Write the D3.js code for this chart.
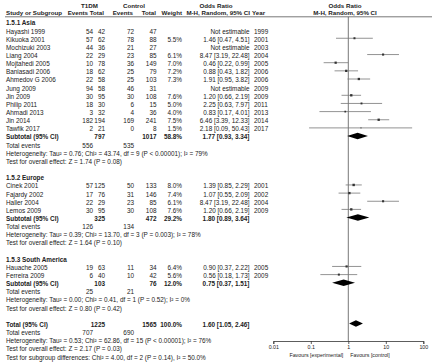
<!DOCTYPE html>
<html>
<head>
<meta charset="utf-8">
<script src="https://cdn.jsdelivr.net/npm/d3@7"></script>
<style>
  body { margin: 0; background: #fff; }
  svg text { font-family: "Liberation Sans", Arial, sans-serif; fill: #222; }
</style>
</head>
<body>
<svg id="chart" width="432" height="362"></svg>
<script>
// study rows: name, T1DM events, T1DM total, control events, control total, weight, OR, lo, hi, year
const asia = [
  ["Hayashi 1999", 54, 42, 72, 47, null, null, null, null, 1999],
  ["Kikuoka 2001", 57, 62, 78, 88, 5.5, 1.46, 0.47, 4.51, 2001],
  ["Mochizuki 2003", 44, 36, 21, 27, null, null, null, null, 2003],
  ["Liang 2004", 22, 29, 23, 85, 6.1, 8.47, 3.19, 22.48, 2004],
  ["Mojtahedi 2005", 10, 78, 36, 149, 7.0, 0.46, 0.22, 0.99, 2005],
  ["Baniasadi 2006", 18, 62, 25, 79, 7.2, 0.88, 0.43, 1.82, 2006],
  ["Ahmedov G 2006", 22, 58, 25, 103, 7.3, 1.91, 0.95, 3.82, 2006],
  ["Jung 2009", 94, 58, 46, 31, null, null, null, null, 2009],
  ["Jin 2009", 30, 95, 30, 108, 7.6, 1.20, 0.66, 2.19, 2009],
  ["Philip 2011", 18, 30, 6, 15, 5.0, 2.25, 0.63, 7.97, 2011],
  ["Ahmadi 2013", 3, 32, 4, 36, 4.0, 0.83, 0.17, 4.01, 2013],
  ["Jin 2014", 182, 194, 169, 241, 7.5, 6.46, 3.39, 12.33, 2014],
  ["Tawfik 2017", 2, 21, 0, 8, 1.5, 2.18, 0.09, 50.43, 2017]
];
const europe = [
  ["Cinek 2001", 57, 125, 50, 133, 8.0, 1.39, 0.85, 2.29, 2001],
  ["Fajardy 2002", 17, 76, 31, 146, 7.4, 1.07, 0.55, 2.09, 2002],
  ["Haller 2004", 22, 29, 23, 85, 6.1, 8.47, 3.19, 22.48, 2004],
  ["Lemos 2009", 30, 95, 30, 108, 7.6, 1.20, 0.66, 2.19, 2009]
];
const southAmerica = [
  ["Hauache 2005", 19, 63, 11, 34, 6.4, 0.90, 0.37, 2.22, 2005],
  ["Ferreira 2009", 6, 40, 10, 42, 5.6, 0.56, 0.18, 1.73, 2009]
];
// subgroup: total1, total2, weight, OR, lo, hi, events1, events2
const subgroupNames = ["1.5.1 Asia", "1.5.2 Europe", "1.5.3 South America"];
const subtotals = [
  [797, 1017, 58.8, 1.77, 0.93, 3.34, 556, 535],
  [325, 472, 29.2, 1.80, 0.89, 3.64, 126, 134],
  [103, 76, 12.0, 0.75, 0.37, 1.51, 25, 21]
];
const heterogeneity = [
  "Heterogeneity: Tau² = 0.76; Chi² = 43.74, df = 9 (P < 0.00001); I² = 79%",
  "Heterogeneity: Tau² = 0.39; Chi² = 13.70, df = 3 (P = 0.003); I² = 78%",
  "Heterogeneity: Tau² = 0.00; Chi² = 0.41, df = 1 (P = 0.52); I² = 0%"
];
const overallEffect = [
  "Test for overall effect: Z = 1.74 (P = 0.08)",
  "Test for overall effect: Z = 1.64 (P = 0.10)",
  "Test for overall effect: Z = 0.80 (P = 0.42)"
];
const total = [1225, 1565, 100.0, 1.60, 1.05, 2.46, 707, 690];
const totalTexts = [
  "Heterogeneity: Tau² = 0.53; Chi² = 62.86, df = 15 (P < 0.00001); I² = 76%",
  "Test for overall effect: Z = 2.17 (P = 0.03)",
  "Test for subgroup differences: Chi² = 4.00, df = 2 (P = 0.14), I² = 50.0%"
];
const axisTicks = [0.01, 0.1, 1, 10, 100];
const tickLabels = ["0.01", "0.1", "1", "10", "100"];

const svg = d3.select("#chart");
const fs = 6.4;
const col = { name: 6, e1: 93, n1: 105, e2: 134, n2: 156.5, w: 182, ci: 249.5, yr: 254 };
const rowH = 8.15, row0 = 33.5, markOff = 3.4;
const x = d3.scaleLog().domain([0.01, 100]).range([273.3, 423.3]);
const axisY = 341;

const fmt2 = d3.format(".2f");
const ciText = (or, lo, hi) => `${fmt2(or)} [${fmt2(lo)}, ${fmt2(hi)}]`;

function txt(xp, y, s, anchor = "start", bold = false, size = fs) {
  return svg.append("text").attr("x", xp).attr("y", y).attr("text-anchor", anchor)
    .attr("font-size", size).attr("font-weight", bold ? "bold" : "normal").text(s);
}

// headers
txt(89.5, 7.5, "T1DM", "middle", true, 6.2);
txt(134, 7.5, "Control", "middle", true, 6.2);
txt(216, 7.5, "Odds Ratio", "middle", true, 6.2);
txt(345, 7.5, "Odds Ratio", "middle", true, 6.2);
txt(col.name, 15, "Study or Subgroup", "start", true, 6.2);
txt(88, 15, "Events", "end", true, 6.2);
txt(104, 15, "Total", "end", true, 6.2);
txt(133, 15, "Events", "end", true, 6.2);
txt(156, 15, "Total", "end", true, 6.2);
txt(col.w, 15, "Weight", "end", true, 6.2);
txt(250, 15, "M-H, Random, 95% CI", "end", true, 6.2);
txt(252, 15, "Year", "start", true, 6.2);
txt(345, 15, "M-H, Random, 95% CI", "middle", true, 6.2);
svg.append("line").attr("x1", 5).attr("x2", 432).attr("y1", 16.8).attr("y2", 16.8)
  .attr("stroke", "#555").attr("stroke-width", 0.8);

// null line
svg.append("line").attr("x1", x(1)).attr("x2", x(1)).attr("y1", 16.8).attr("y2", axisY)
  .attr("stroke", "#555").attr("stroke-width", 0.8);

const marks = svg.append("g");
function diamond(y, or, lo, hi) {
  marks.append("path")
    .attr("d", `M${x(lo)},${y} L${x(or)},${y - 3.2} L${x(hi)},${y} L${x(or)},${y + 3.2} Z`)
    .attr("fill", "#000");
}

let i = -1;
const base = k => row0 + rowH * k;
const groups = [asia, europe, southAmerica];
groups.forEach((studies, g) => {
  txt(col.name, base(i), subgroupNames[g], "start", true);
  i++;
  studies.forEach(d => {
    const y = base(i);
    txt(col.name, y, d[0]);
    txt(col.e1, y, d[1], "end");
    txt(col.n1, y, d[2], "end");
    txt(col.e2, y, d[3], "end");
    txt(col.n2, y, d[4], "end");
    if (d[5] == null) {
      txt(col.ci, y, "Not estimable", "end");
    } else {
      txt(col.w, y, d[5].toFixed(1) + "%", "end");
      txt(col.ci, y, ciText(d[6], d[7], d[8]), "end");
      const my = y - markOff;
      marks.append("line").attr("x1", x(d[7])).attr("x2", x(d[8]))
        .attr("y1", my).attr("y2", my).attr("stroke", "#777").attr("stroke-width", 0.8);
      const s = 0.85 * Math.sqrt(d[5]);
      marks.append("rect").attr("x", x(d[6]) - s / 2).attr("y", my - s / 2)
        .attr("width", s).attr("height", s).attr("fill", "#333");
    }
    txt(col.yr, y, d[9]);
    i++;
  });
  const st = subtotals[g];
  let y = base(i);
  txt(col.name, y, "Subtotal (95% CI)", "start", true);
  txt(col.n1, y, st[0], "end", true);
  txt(col.n2, y, st[1], "end", true);
  txt(col.w, y, st[2].toFixed(1) + "%", "end", true);
  txt(col.ci, y, ciText(st[3], st[4], st[5]), "end", true);
  diamond(y - markOff, st[3], st[4], st[5]);
  i++;
  y = base(i);
  txt(col.name, y, "Total events");
  txt(col.e1, y, st[6], "end");
  txt(col.e2, y, st[7], "end");
  i++;
  txt(col.name, base(i), heterogeneity[g]);
  i++;
  txt(col.name, base(i), overallEffect[g]);
  i += 2;
});

let y = base(i);
txt(col.name, y, "Total (95% CI)", "start", true);
txt(col.n1, y, total[0], "end", true);
txt(col.n2, y, total[1], "end", true);
txt(col.w, y, total[2].toFixed(1) + "%", "end", true);
txt(col.ci, y, ciText(total[3], total[4], total[5]), "end", true);
diamond(y - markOff, total[3], total[4], total[5]);
i++;
y = base(i);
txt(col.name, y, "Total events");
txt(col.e1, y, total[6], "end");
txt(col.e2, y, total[7], "end");
totalTexts.forEach(t => { i++; txt(col.name, base(i), t); });

// axis
const axis = d3.axisBottom(x).tickValues(axisTicks)
  .tickFormat((d, k) => tickLabels[k]).tickSize(3).tickPadding(1);
const ag = svg.append("g").attr("transform", `translate(0,${axisY})`).call(axis);
ag.select(".domain").attr("stroke", "#333").attr("stroke-width", 0.8);
ag.selectAll(".tick line").attr("stroke", "#333").attr("stroke-width", 0.8);
ag.selectAll(".tick text").attr("font-size", 5.3).attr("fill", "#222")
  .attr("font-family", "Liberation Sans, Arial, sans-serif");
txt(x(1) - 5, 357, "Favours [experimental]", "end", false, 5.3);
txt(x(1) + 2, 357, "Favours [control]", "start", false, 5.3);
</script>
</body>
</html>
